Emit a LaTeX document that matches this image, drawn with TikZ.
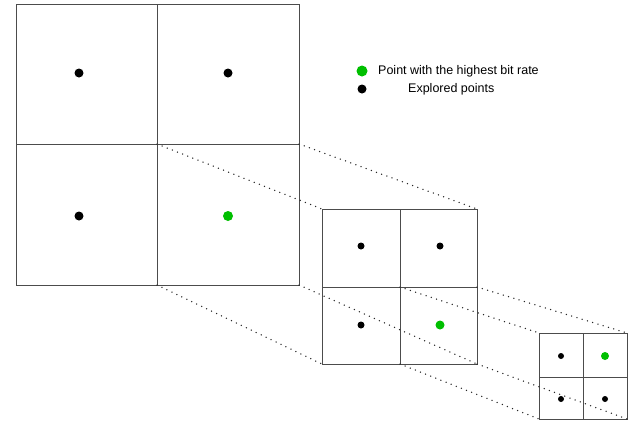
\documentclass[tikz,border=0pt]{standalone}
\usepackage{fontspec}
\setmainfont{Liberation Sans}
\begin{document}
\begin{tikzpicture}[x=1pt,y=-1pt,
  gridline/.style={draw=black!70,line width=0.9pt},
  zoomline/.style={draw=black!85,line width=1.5pt,line cap=round,dash pattern=on 0pt off 5.5pt},
  bdot/.style={circle,fill=black,inner sep=0pt,minimum size=#1},
  gdot/.style={circle,fill=green!75!black,inner sep=0pt,minimum size=#1},
  lbl/.style={font=\fontsize{12.5}{14}\selectfont,anchor=west,inner sep=0pt}]
\useasboundingbox (0,0) rectangle (637,421);
% large grid
\coordinate (A1) at (16,4); \coordinate (A2) at (299,285);
\coordinate (Amid) at (157,144);
\coordinate (Arm) at (299,144); \coordinate (Abm) at (157,285);
\draw[gridline] (A1) rectangle (A2);
\draw[gridline] (157,4) -- (Abm);
\draw[gridline] (16,144) -- (Arm);
\node[bdot=9pt] (a1) at (79,73) {};
\node[bdot=9pt] (a2) at (228,73) {};
\node[bdot=9pt] (a3) at (79,216) {};
\node[gdot=10pt] (a4) at (228,216) {};
% medium grid
\coordinate (B1) at (322,209); \coordinate (B2) at (477,364);
\coordinate (Btr) at (477,209); \coordinate (Bbl) at (322,364);
\coordinate (Bmid) at (400,287);
\coordinate (Brm) at (477,287); \coordinate (Bbm) at (400,364);
\draw[gridline] (B1) rectangle (B2);
\draw[gridline] (400,209) -- (Bbm);
\draw[gridline] (322,287) -- (Brm);
\node[bdot=7pt] (b1) at (361,246) {};
\node[bdot=7pt] (b2) at (440,246) {};
\node[bdot=7pt] (b3) at (361,325) {};
\node[gdot=9pt] (b4) at (440,325) {};
% small grid
\coordinate (C1) at (539,333); \coordinate (C2) at (627,419);
\coordinate (Ctr) at (627,333); \coordinate (Cbl) at (539,419);
\draw[gridline] (C1) rectangle (C2);
\draw[gridline] (583,333) -- (583,419);
\draw[gridline] (539,377) -- (627,377);
\node[bdot=6pt] (c1) at (561,356) {};
\node[gdot=8pt] (c2) at (605,356) {};
\node[bdot=6pt] (c3) at (561,399) {};
\node[bdot=6pt] (c4) at (605,399) {};
% zoom lines
\draw[zoomline] (Amid) -- (B1);
\draw[zoomline] (Arm) -- (Btr);
\draw[zoomline] (Abm) -- (Bbl);
\draw[zoomline] (A2) -- (B2);
\draw[zoomline] (Bmid) -- (C1);
\draw[zoomline] (Brm) -- (Ctr);
\draw[zoomline] (Bbm) -- (Cbl);
\draw[zoomline] (B2) -- (C2);
% legend
\node[gdot=11pt] (lg) at (362,71) {};
\node[bdot=9pt] (lb) at (362,89) {};
\node[lbl] (tg) at (378,71) {Point with the highest bit rate};
\node[lbl] (tb) at (408,89) {Explored points};
\end{tikzpicture}
\end{document}
